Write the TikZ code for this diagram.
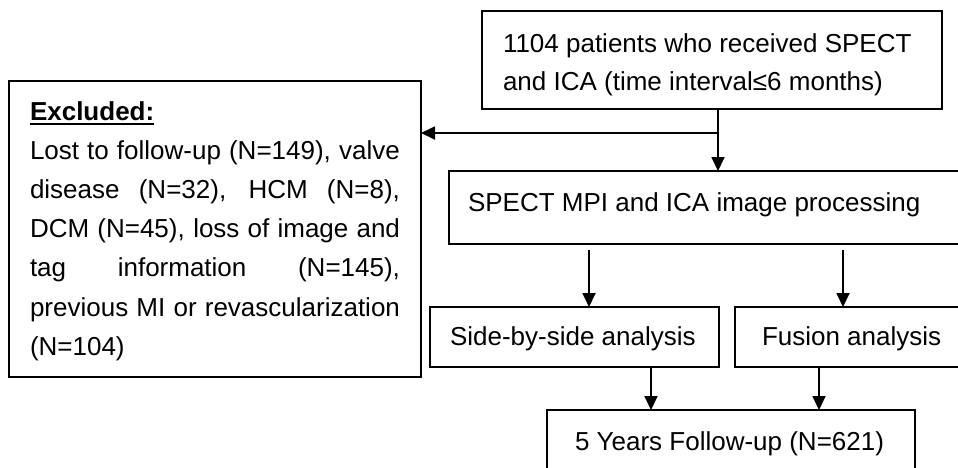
\documentclass[tikz,border=0pt]{standalone}
\usepackage{fontspec}
\setmainfont{Liberation Sans}
\usetikzlibrary{arrows.meta}
\newcommand\exul[1]{\setbox0\hbox{#1}\rlap{\rule[-5pt]{\wd0}{2.4pt}}\box0}
\tikzset{
  box/.style={draw, line width=2pt, anchor=north west, inner ysep=0pt, outer sep=0pt,
    font=\fontsize{26}{39.2}\selectfont},
  link/.style={line width=1.8pt},
  arr/.style={line width=1.8pt, -{Triangle[width=13pt,length=14pt]}}
}
\begin{document}
\begin{tikzpicture}[x=1pt,y=-1pt]
\useasboundingbox (0,0) rectangle (958,467);
\clip (0,0) rectangle (958,467);
\fill[white] (0,0) rectangle (958,467);

\node[box, inner xsep=21pt, font=\fontsize{26}{38}\selectfont] (top) at (482,11)
  {\vbox{\hbox to 418pt{\rule{0pt}{41pt}1104 patients who received SPECT\hfil}
         \hbox to 418pt{and ICA (time interval≤6 months)\rule[-19pt]{0pt}{19pt}\hfil}}};

\node[box, inner xsep=21pt] (excl) at (9,81)
  {\vbox{\hbox to 370pt{\rule{0pt}{39pt}\exul{\textbf{Excluded:}}\hfil}
         \hbox to 370pt{Lost to follow-up (N=149), valve}
         \hbox to 370pt{disease (N=32), HCM (N=8),}
         \hbox to 370pt{DCM (N=45), loss of image and}
         \hbox to 370pt{tag information (N=145),}
         \hbox to 370pt{previous MI or revascularization}
         \hbox to 370pt{(N=104)\rule[-22pt]{0pt}{22pt}\hfil}}};

\node[box, inner xsep=19pt] (spect) at (449,171)
  {\hbox to 480pt{\rule[-33pt]{0pt}{73pt}SPECT MPI and ICA image processing\hfil}};

\node[box, inner xsep=20pt] (sbs) at (430,307)
  {\hbox to 249pt{\rule[-22pt]{0pt}{60pt}Side-by-side analysis\hfil}};

\node[box, inner xsep=27pt] (fus) at (735,307)
  {\hbox to 200pt{\rule[-22pt]{0pt}{60pt}Fusion analysis\hfil}};

\node[box, inner xsep=28pt] (fu5) at (547,410)
  {\hbox to 312pt{\rule[-25pt]{0pt}{65pt}5 Years Follow-up (N=621)\hfil}};

\coordinate (split) at (718,133);
\draw[link] (top.south -| split) -- (split);
\draw[arr] (split) -- (spect.north -| split);
\draw[arr] (split) -- (excl.east |- split);

\coordinate (a1) at (589,250);
\coordinate (a2) at (843,250);
\draw[arr] (a1) -- (sbs.north -| a1);
\draw[arr] (a2) -- (fus.north -| a2);

\coordinate (b1) at (651,0);
\coordinate (b2) at (819,0);
\draw[arr] (sbs.south -| b1) -- (fu5.north -| b1);
\draw[arr] (fus.south -| b2) -- (fu5.north -| b2);
\end{tikzpicture}
\end{document}
